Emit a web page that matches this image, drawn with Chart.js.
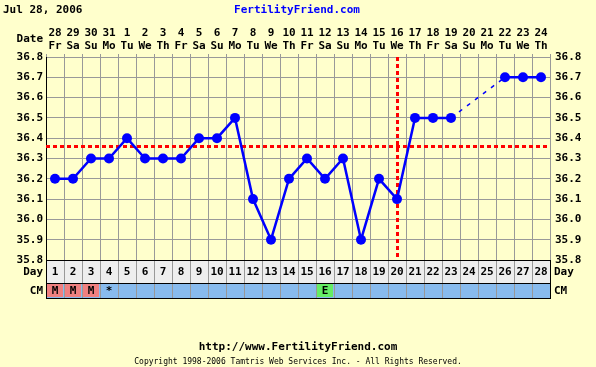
<!DOCTYPE html>
<html>
<head>
<meta charset="utf-8">
<script src="https://cdn.jsdelivr.net/npm/chart.js@4.4.0/dist/chart.umd.min.js"></script>
<style>
  html, body { margin: 0; padding: 0; background: #ffffcc; }
  canvas { display: block; }
</style>
</head>
<body>
<canvas id="chart" width="596" height="367"></canvas>
<script>
// chart data
const chartDate = 'Jul 28, 2006';
const cycleDays = [1, 2, 3, 4, 5, 6, 7, 8, 9, 10, 11, 12, 13, 14, 15, 16, 17, 18, 19, 20, 21, 22, 23, 24, 25, 26, 27, 28];
const dates = ['28', '29', '30', '31', '1', '2', '3', '4', '5', '6', '7', '8', '9', '10',
    '11', '12', '13', '14', '15', '16', '17', '18', '19', '20', '21', '22', '23', '24'];
const weekdays = ['Fr', 'Sa', 'Su', 'Mo', 'Tu', 'We', 'Th', 'Fr', 'Sa', 'Su', 'Mo', 'Tu', 'We', 'Th',
    'Fr', 'Sa', 'Su', 'Mo', 'Tu', 'We', 'Th', 'Fr', 'Sa', 'Su', 'Mo', 'Tu', 'We', 'Th'];
const temps = [36.2, 36.2, 36.3, 36.3, 36.4, 36.3, 36.3, 36.3, 36.4, 36.4, 36.5, 36.1, 35.9, 36.2,
    36.3, 36.2, 36.3, 35.9, 36.2, 36.1, 36.5, 36.5, 36.5, null, null, 36.7, 36.7, 36.7];
const cervicalMucus = ['M', 'M', 'M', '*', '', '', '', '', '', '', '', '', '', '',
    '', 'E', '', '', '', '', '', '', '', '', '', '', '', ''];
const coverline = 36.36;
const ovulationDay = 20;
const tempMin = 35.8;
const tempMax = 36.8;

const FONT = '"DejaVu Sans Mono", monospace';
const BG = '#ffffcc';
const GRID = '#999999';
const CM_FILL = { M: '#f08080', E: '#66ee66' };

function text(ctx, str, x, y, font, color, align) {
    ctx.font = font;
    ctx.fillStyle = color;
    ctx.textAlign = align || 'center';
    ctx.textBaseline = 'middle';
    ctx.fillText(str, x, y);
}

// a segment that jumps over missing temperatures is drawn dashed
const isGap = c => temps[c.p1DataIndex - 1] == null;

const chartDecor = {
    id: 'chartDecor',
    beforeDraw(chart) {
        const ctx = chart.ctx;
        ctx.save();
        ctx.fillStyle = BG;
        ctx.fillRect(0, 0, chart.width, chart.height);
        ctx.restore();
    },
    beforeDatasetsDraw(chart) {
        const { ctx, chartArea: a, scales: { x, y } } = chart;
        ctx.save();
        ctx.strokeStyle = '#ff0000';
        ctx.lineWidth = 3;
        ctx.setLineDash([4, 3]);
        const cy = Math.round(y.getPixelForValue(coverline)) + 0.5;
        ctx.beginPath();
        ctx.moveTo(a.left, cy);
        ctx.lineTo(a.right, cy);
        ctx.stroke();
        const ox = Math.round(x.getPixelForValue(ovulationDay - 1)) + 0.5;
        ctx.beginPath();
        ctx.moveTo(ox, a.top);
        ctx.lineTo(ox, a.bottom);
        ctx.stroke();
        ctx.restore();
    },
    afterDraw(chart) {
        const { ctx, chartArea: a, scales: { x } } = chart;
        const bold = 'bold 11px ' + FONT;
        const colW = (a.right - a.left) / cycleDays.length;
        const dayTop = a.bottom, dayBot = a.bottom + 23, cmBot = dayBot + 15;
        ctx.save();

        // header
        text(ctx, chartDate, 3, 10, bold, '#000', 'left');
        text(ctx, 'FertilityFriend.com', 297, 10, bold, '#0000ff');
        text(ctx, 'Date', 43, 39, bold, '#000', 'right');

        // day row + CM row
        ctx.fillStyle = '#eeeeee';
        ctx.fillRect(a.left, dayTop, a.right - a.left, dayBot - dayTop);
        ctx.fillStyle = '#88bbee';
        ctx.fillRect(a.left, dayBot, a.right - a.left, cmBot - dayBot);
        cycleDays.forEach((d, i) => {
            const cx = x.getPixelForValue(i);
            const cm = cervicalMucus[i];
            if (CM_FILL[cm]) {
                ctx.fillStyle = CM_FILL[cm];
                ctx.fillRect(cx - colW / 2 + 1, dayBot + 1, colW - 2, cmBot - dayBot - 2);
            }
            text(ctx, String(d), cx, (dayTop + dayBot) / 2 + 1, bold, '#000');
            if (cm) text(ctx, cm, cx, (dayBot + cmBot) / 2 + 1, bold, '#000');
        });
        ctx.strokeStyle = GRID;
        ctx.lineWidth = 1;
        for (let i = 1; i < cycleDays.length; i++) {
            const gx = Math.round(a.left + i * colW) + 0.5;
            ctx.beginPath();
            ctx.moveTo(gx, dayTop);
            ctx.lineTo(gx, cmBot);
            ctx.stroke();
        }
        ctx.strokeStyle = '#000';
        [dayTop, dayBot, cmBot].forEach(ly => {
            ctx.beginPath();
            ctx.moveTo(a.left, ly + 0.5);
            ctx.lineTo(a.right + 1, ly + 0.5);
            ctx.stroke();
        });
        [a.left, a.right].forEach(lx => {
            ctx.beginPath();
            ctx.moveTo(Math.round(lx) + 0.5, dayTop);
            ctx.lineTo(Math.round(lx) + 0.5, cmBot + 1);
            ctx.stroke();
        });
        text(ctx, 'Day', 43, (dayTop + dayBot) / 2 + 1, bold, '#000', 'right');
        text(ctx, 'CM', 43, (dayBot + cmBot) / 2 + 1, bold, '#000', 'right');
        text(ctx, 'Day', 554, (dayTop + dayBot) / 2 + 1, bold, '#000', 'left');
        text(ctx, 'CM', 554, (dayBot + cmBot) / 2 + 1, bold, '#000', 'left');

        // footer
        text(ctx, 'http://www.FertilityFriend.com', 298, 347, bold, '#000');
        text(ctx, 'Copyright 1998-2006 Tamtris Web Services Inc. - All Rights Reserved.', 298, 362, '8px ' + FONT, '#000');
        ctx.restore();
    }
};

const tickFont = { family: FONT, size: 11, weight: 'bold' };

new Chart(document.getElementById('chart'), {
    type: 'line',
    data: {
        labels: cycleDays,
        datasets: [{
            data: temps,
            yAxisID: 'y',
            borderColor: '#0000ff',
            backgroundColor: '#0000ff',
            borderWidth: 2.5,
            pointRadius: 5,
            pointHoverRadius: 5,
            pointBorderWidth: 0,
            spanGaps: true,
            tension: 0,
            segment: {
                borderDash: c => (isGap(c) ? [4, 6] : undefined),
                borderWidth: c => (isGap(c) ? 1.5 : undefined)
            }
        }]
    },
    options: {
        responsive: false,
        animation: false,
        events: [],
        layout: { padding: { top: 0, bottom: 107, left: 0, right: 0 } },
        plugins: { legend: { display: false }, tooltip: { enabled: false } },
        scales: {
            x: {
                type: 'category',
                position: 'top',
                offset: true,
                grid: { offset: true, color: GRID, tickLength: 3, lineWidth: 1 },
                border: { color: GRID },
                ticks: {
                    color: '#000',
                    font: { ...tickFont, lineHeight: '13px' },
                    padding: 1,
                    maxRotation: 0,
                    autoSkip: false,
                    callback: (v, i) => [dates[i], weekdays[i]]
                },
                afterFit: s => { s.height = 57; }
            },
            y: {
                position: 'left',
                min: tempMin,
                max: tempMax,
                grid: { color: GRID, drawTicks: false },
                border: { color: '#000' },
                ticks: { stepSize: 0.1, color: '#000', font: tickFont, padding: 3, callback: v => v.toFixed(1) },
                afterFit: s => { s.width = 46; }
            },
            y2: {
                position: 'right',
                min: tempMin,
                max: tempMax,
                grid: { drawOnChartArea: false, drawTicks: false },
                border: { color: GRID },
                ticks: { stepSize: 0.1, color: '#000', font: tickFont, padding: 5, callback: v => v.toFixed(1) },
                afterFit: s => { s.width = 46; }
            }
        }
    },
    plugins: [chartDecor]
});
</script>
</body>
</html>
